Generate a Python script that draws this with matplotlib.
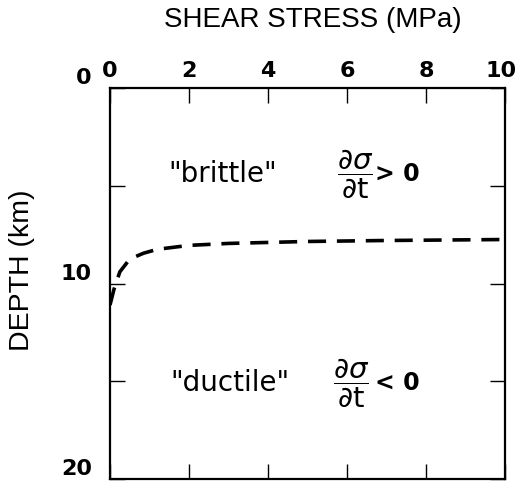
import numpy as np
import matplotlib
matplotlib.use('Agg')
import matplotlib.pyplot as plt
from matplotlib.transforms import ScaledTranslation

# transition curve (stress in MPa, depth in km)
stress = [0.0, 0.1, 0.25, 0.5, 0.85, 1.2, 2.0, 3.0, 5.0, 7.0, 10.0]
depth = [11.1, 10.3, 9.4, 8.75, 8.45, 8.25, 8.05, 7.95, 7.85, 7.8, 7.75]

x_ticks = [0, 2, 4, 6, 8, 10]
x_labels = ['0', '2', '4', '6', '8', '10']
y_ticks = [0, 5, 10, 15, 20]
y_labels = ['0', '', '10', '', '20']

plt.rcParams['mathtext.fontset'] = 'dejavusans'

fig = plt.figure(figsize=(5.19, 4.86), dpi=100)
ax = fig.add_axes([110 / 519, 1 - 479 / 486, 395 / 519, 391 / 486])

line, = ax.plot(stress, depth, color='black', lw=2.6, ls='--')
line.set_dashes([5, 3])

ax.set_xlim(0, 10)
ax.set_ylim(20, 0)
ax.xaxis.tick_top()
ax.tick_params(which='both', direction='in', length=11, width=1.0,
               top=True, bottom=True, left=True, right=True, labelsize=16)
ax.tick_params(axis='x', pad=5)
ax.tick_params(axis='y', pad=13)
ax.set_xticks(x_ticks, labels=x_labels, fontweight='bold')
ax.set_yticks(y_ticks, labels=y_labels, va='bottom', fontweight='bold')
# the last top label sits a little left of its tick, as in the original
last = ax.xaxis.get_major_ticks()[-1].label2
last.set_transform(last.get_transform() + ScaledTranslation(-3 / 72, 0, fig.dpi_scale_trans))
for sp in ax.spines.values():
    sp.set_linewidth(1.6)

ax.text(0.513, 1.175, 'SHEAR STRESS (MPa)', transform=ax.transAxes,
        ha='center', va='center', fontsize=20, family='Liberation Sans')
ax.text(-0.222, 0.533, 'DEPTH (km)', transform=ax.transAxes, rotation=90,
        ha='center', va='center', fontsize=20.5, family='Liberation Sans')

ax.text(2.86, 4.4, '"brittle"', ha='center', va='center', fontsize=20)
ax.text(5.75, 4.4, r'$\dfrac{\partial\sigma}{\partial \mathrm{t}}$',
        ha='left', va='center', fontsize=21)
ax.text(6.72, 4.4, '> 0', ha='left', va='center', fontsize=17, fontweight='bold')
ax.text(3.04, 15.1, '"ductile"', ha='center', va='center', fontsize=20)
ax.text(5.65, 15.1, r'$\dfrac{\partial\sigma}{\partial \mathrm{t}}$',
        ha='left', va='center', fontsize=21)
ax.text(6.72, 15.1, '< 0', ha='left', va='center', fontsize=17, fontweight='bold')

fig.savefig('out.png', dpi=100)
